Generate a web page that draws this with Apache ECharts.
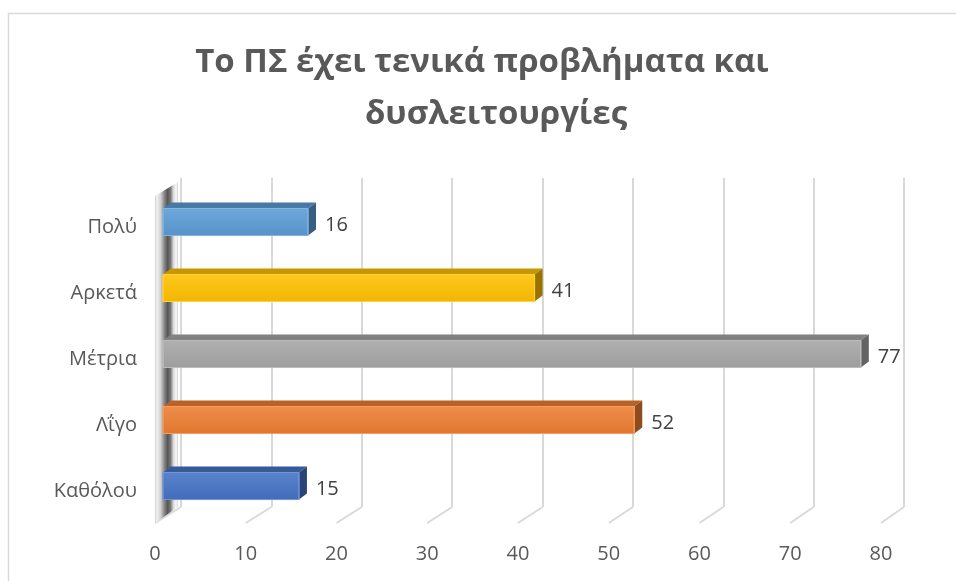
<!DOCTYPE html>
<html>
<head>
<meta charset="utf-8">
<script src="https://cdn.jsdelivr.net/npm/echarts@6/dist/echarts.min.js"></script>
<style>
  html, body { margin: 0; padding: 0; background: #ffffff; }
  #chart { width: 956px; height: 581px; }
</style>
</head>
<body>
<div id="chart"></div>
<script>
// Survey answers, bottom to top on the category axis
const categories = ['Καθόλου', 'Λΐγο', 'Μέτρια', 'Αρκετά', 'Πολύ'];
const counts = [15, 52, 77, 41, 16];
const barColors = ['#4472C4', '#ED7D31', '#A5A5A5', '#FFC000', '#5B9BD5'];
const tickValues = [0, 10, 20, 30, 40, 50, 60, 70, 80];
const titleLines = ['Το ΠΣ έχει τενικά προβλήματα και', 'δυσλειτουργίες'];

const FONT = '"Open Sans", "Noto Sans", sans-serif';
const LABEL_SIZE = 20;
const DEPTH_X = 8, DEPTH_Y = -6;

function shade(hex, f) {
  const n = parseInt(hex.slice(1), 16);
  const r = (n >> 16) & 255, g = (n >> 8) & 255, b = n & 255;
  const m = (c) => Math.max(0, Math.min(255, Math.round(f >= 1 ? c + (255 - c) * (f - 1) : c * f)));
  return 'rgb(' + m(r) + ',' + m(g) + ',' + m(b) + ')';
}

const chart = echarts.init(document.getElementById('chart'), null, { renderer: 'canvas' });

// Box-shaped bar: front face, top face and right side face, plus value label
function renderBox(params, api) {
  const v = api.value(0);
  const c = api.value(1);
  const p0 = api.coord([0, c]);
  const p1 = api.coord([v, c]);
  const band = api.size([0, 1])[1];
  const h = band * 0.41;
  const x0 = p0[0], x1 = p1[0];
  const yt = p0[1] - h / 2, yb = p0[1] + h / 2;
  const base = barColors[params.dataIndex];
  return {
    type: 'group',
    children: [
      {
        type: 'polygon',
        shape: { points: [[x0, yt], [x1, yt], [x1 + DEPTH_X, yt + DEPTH_Y], [x0 + DEPTH_X, yt + DEPTH_Y]] },
        style: { fill: shade(base, 0.78) }
      },
      {
        type: 'polygon',
        shape: { points: [[x1, yt], [x1 + DEPTH_X, yt + DEPTH_Y], [x1 + DEPTH_X, yb + DEPTH_Y], [x1, yb]] },
        style: { fill: shade(base, 0.6) }
      },
      {
        type: 'rect',
        shape: { x: x0, y: yt, width: x1 - x0, height: h },
        style: {
          fill: new echarts.graphic.LinearGradient(0, 0, 0, 1, [
            { offset: 0, color: shade(base, 1.12) },
            { offset: 1, color: shade(base, 0.95) }
          ]),
          stroke: shade(base, 1.25),
          lineWidth: 1
        }
      },
      {
        type: 'text',
        style: {
          text: String(v),
          x: x1 + DEPTH_X + 9,
          y: p0[1] + 3,
          verticalAlign: 'middle',
          align: 'left',
          fill: '#404040',
          font: LABEL_SIZE + 'px ' + FONT
        }
      }
    ]
  };
}

const titleStyle = {
  fontFamily: FONT,
  fontSize: 33,
  fontWeight: 'bold',
  color: '#595959'
};

const option = {
  backgroundColor: '#ffffff',
  animation: false,
  title: [
    { text: titleLines[0], left: 477, top: 41, textAlign: 'center', textStyle: titleStyle },
    { text: titleLines[1], left: 491, top: 93, textAlign: 'center', textStyle: titleStyle }
  ],
  grid: [
    { left: 163, top: 189, width: 725, height: 330 },   // bar fronts
    { left: 181, top: 178, width: 723, height: 329 },   // back wall
    { left: 155, top: 507, width: 726, height: 16 },    // floor front edge
    { left: 163, top: 194, width: 725, height: 330 }    // category names
  ],
  xAxis: [
    { gridIndex: 0, type: 'value', min: 0, max: 80, interval: 10, show: false },
    {
      gridIndex: 1, type: 'value', min: 0, max: 80, interval: 10,
      axisLine: { show: false }, axisTick: { show: false }, axisLabel: { show: false },
      splitLine: { show: true, lineStyle: { color: '#d9d9d9', width: 2 } }
    },
    {
      gridIndex: 2, type: 'value', min: 0, max: 80, interval: 10,
      axisLine: { show: false }, axisTick: { show: false }, splitLine: { show: false },
      axisLabel: {
        margin: 21,
        color: '#595959',
        fontFamily: FONT,
        fontSize: LABEL_SIZE,
        formatter: (val) => tickValues.indexOf(val) >= 0 ? String(val) : ''
      }
    },
    { gridIndex: 3, type: 'value', min: 0, max: 80, show: false }
  ],
  yAxis: [
    { gridIndex: 0, type: 'category', data: categories, show: false },
    { gridIndex: 1, type: 'value', min: 0, max: 1, show: false },
    { gridIndex: 2, type: 'value', min: 0, max: 1, show: false },
    {
      gridIndex: 3, type: 'category', data: categories,
      axisLine: { show: false }, axisTick: { show: false }, splitLine: { show: false },
      axisLabel: {
        margin: 26,
        color: '#595959',
        fontFamily: FONT,
        fontSize: LABEL_SIZE
      }
    }
  ],
  series: [
    {
      type: 'custom',
      xAxisIndex: 0,
      yAxisIndex: 0,
      renderItem: renderBox,
      encode: { x: 0, y: 1 },
      data: counts.map((v, i) => [v, i]),
      z: 10
    }
  ]
};

chart.setOption(option);

// Frame, side wall and floor lines joining the back wall to the front edge
function buildDecor() {
  const els = [
    {
      type: 'rect', silent: true, z: -10,
      shape: { x: 8.5, y: 13.5, width: 1200, height: 1200 },
      style: { fill: 'none', stroke: '#d9d9d9', lineWidth: 1.5 }
    }
  ];
  tickValues.forEach((t) => {
    const back = chart.convertToPixel({ gridIndex: 1 }, [t, 0]);
    const front = chart.convertToPixel({ gridIndex: 2 }, [t, 0]);
    els.push({
      type: 'line', silent: true, z: 1,
      shape: { x1: back[0], y1: back[1], x2: front[0], y2: front[1] },
      style: { stroke: '#d9d9d9', lineWidth: 2 }
    });
  });
  const bTop = chart.convertToPixel({ gridIndex: 1 }, [0, 1]);
  const bBot = chart.convertToPixel({ gridIndex: 1 }, [0, 0]);
  const fBot = chart.convertToPixel({ gridIndex: 2 }, [0, 0]);
  const wallBackX = bTop[0] - 3;
  els.push({
    type: 'polygon', silent: true, z: 5,
    shape: {
      points: [
        [fBot[0], bTop[1] + 18],
        [wallBackX, bTop[1] + 4],
        [wallBackX, bBot[1]],
        [fBot[0], fBot[1]]
      ]
    },
    style: {
      fill: new echarts.graphic.LinearGradient(0, 0, 1, 0, [
        { offset: 0, color: '#d0d0d0' },
        { offset: 0.08, color: '#f2f2f2' },
        { offset: 0.25, color: '#d0d0d0' },
        { offset: 0.4, color: '#8a8a8a' },
        { offset: 0.55, color: '#555555' },
        { offset: 0.68, color: '#7a7a7a' },
        { offset: 0.8, color: '#d8d8d8' },
        { offset: 0.92, color: '#fafafa' },
        { offset: 1, color: '#d0d0d0' }
      ])
    }
  });
  chart.setOption({ graphic: { elements: els } });
}
buildDecor();
</script>
</body>
</html>
